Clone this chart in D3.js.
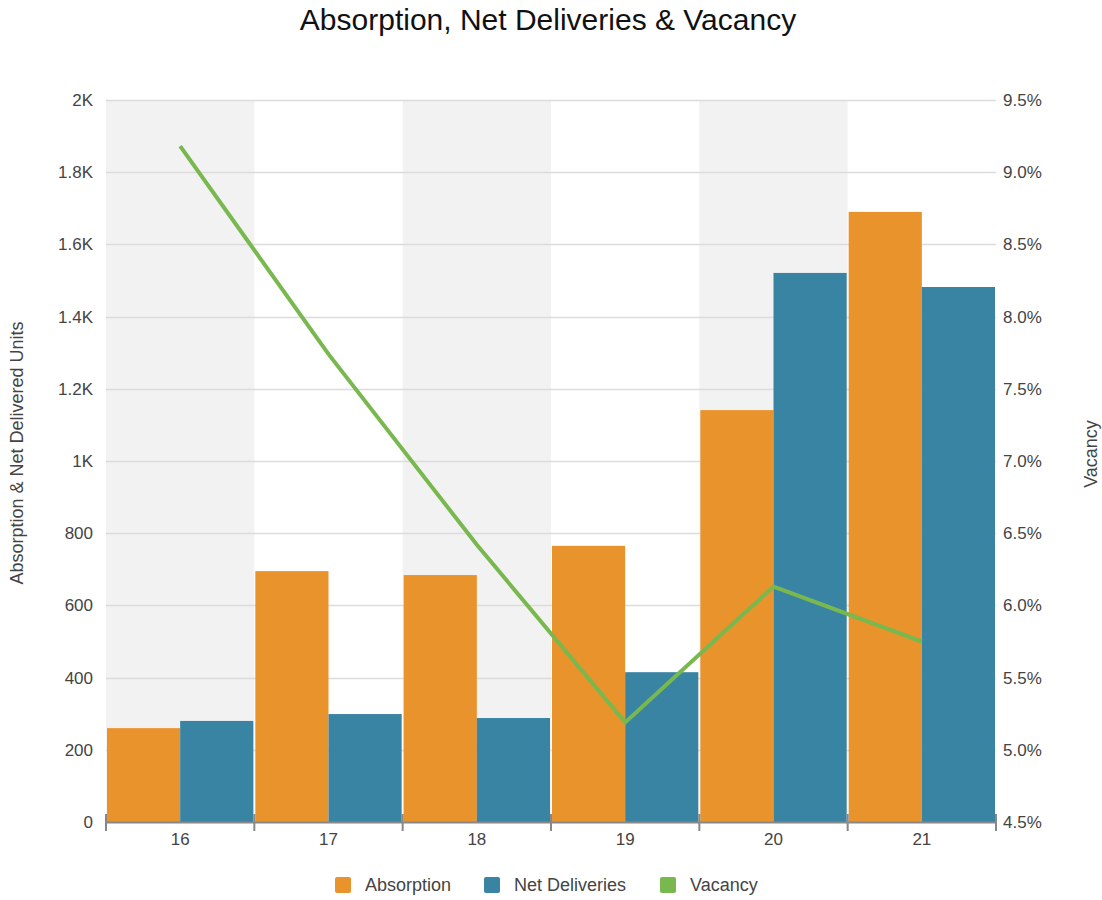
<!DOCTYPE html>
<html>
<head>
<meta charset="utf-8">
<script src="https://cdn.jsdelivr.net/npm/d3@7"></script>
<style>
  body { margin: 0; background: #fff; font-family: "Liberation Sans", Arial, sans-serif; }
  .tick text { fill: #444; font-size: 17px; }
</style>
</head>
<body>
<div id="chart"></div>
<script>
var years = ["16", "17", "18", "19", "20", "21"];
var absorption = [260, 695, 684, 765, 1141, 1690];
var netDeliveries = [280, 299, 288, 415, 1521, 1482];
var vacancy = [9.18, 7.74, 6.42, 5.19, 6.13, 5.75];
var leftTicks = [0, 200, 400, 600, 800, 1000, 1200, 1400, 1600, 1800, 2000];
var rightTicks = [4.5, 5.0, 5.5, 6.0, 6.5, 7.0, 7.5, 8.0, 8.5, 9.0, 9.5];

var width = 1102, height = 900;
var margin = {top: 100, right: 106, bottom: 78, left: 106};
var w = width - margin.left - margin.right,
    h = height - margin.top - margin.bottom;

var colors = {abs: "#e9932d", net: "#3983a3", vac: "#78b84f"};

var svg = d3.select("#chart").append("svg")
    .attr("width", width)
    .attr("height", height);

svg.append("text")
    .attr("x", width / 2 - 3)
    .attr("y", 30)
    .attr("text-anchor", "middle")
    .style("font-size", "30px")
    .style("fill", "#111")
    .text("Absorption, Net Deliveries & Vacancy");

var g = svg.append("g")
    .attr("transform", "translate(" + margin.left + "," + margin.top + ")");

var x = d3.scaleBand().domain(years).range([0, w]);
var sub = d3.scaleBand().domain(["abs", "net"]).range([0, x.bandwidth()]);
var y = d3.scaleLinear().domain([0, 2000]).range([h, 0]);
var yr = d3.scaleLinear().domain([4.5, 9.5]).range([h, 0]);

// alternating bands
g.selectAll("rect.band")
  .data(years.filter(function(d, i) { return i % 2 === 0; }))
  .enter().append("rect")
    .attr("class", "band")
    .attr("x", function(d) { return x(d); })
    .attr("y", 0)
    .attr("width", x.bandwidth())
    .attr("height", h)
    .attr("fill", "#f2f2f2");

// gridlines
g.selectAll("line.grid")
  .data(leftTicks.slice(1))
  .enter().append("line")
    .attr("class", "grid")
    .attr("x1", 0)
    .attr("x2", w)
    .attr("y1", function(d) { return Math.round(y(d)) + 0.5; })
    .attr("y2", function(d) { return Math.round(y(d)) + 0.5; })
    .attr("stroke", "#dcdcdc")
    .attr("stroke-width", 1.5);

// bars
var rows = years.map(function(d, i) {
  return {year: d, abs: absorption[i], net: netDeliveries[i]};
});
var groups = g.selectAll("g.grp").data(rows).enter().append("g")
    .attr("class", "grp")
    .attr("transform", function(d) { return "translate(" + x(d.year) + ",0)"; });

groups.append("rect")
    .attr("x", 1)
    .attr("width", sub.bandwidth() - 1)
    .attr("y", function(d) { return y(d.abs); })
    .attr("height", function(d) { return h - y(d.abs); })
    .attr("fill", colors.abs);

groups.append("rect")
    .attr("x", sub("net"))
    .attr("width", sub.bandwidth() - 1)
    .attr("y", function(d) { return y(d.net); })
    .attr("height", function(d) { return h - y(d.net); })
    .attr("fill", colors.net);

// vacancy line
var line = d3.line()
    .x(function(d, i) { return x(years[i]) + x.bandwidth() / 2; })
    .y(function(d) { return yr(d); });

g.append("path")
    .datum(vacancy)
    .attr("d", line)
    .attr("fill", "none")
    .attr("stroke", colors.vac)
    .attr("stroke-width", 4)
    .attr("stroke-linejoin", "miter");

// axes
var fmtK = function(d) { return d >= 1000 ? (d / 1000) + "K" : d; };
var yAxis = g.append("g")
    .call(d3.axisLeft(y).tickValues(leftTicks).tickFormat(fmtK).tickSize(0).tickPadding(13));
yAxis.select(".domain").remove();

var yrAxis = g.append("g")
    .attr("transform", "translate(" + w + ",0)")
    .call(d3.axisRight(yr).tickValues(rightTicks).tickFormat(function(d) { return d.toFixed(1) + "%"; }).tickSize(0).tickPadding(7));
yrAxis.select(".domain").remove();

var xAxis = g.append("g")
    .attr("transform", "translate(0," + h + ")")
    .call(d3.axisBottom(x).tickSize(0).tickPadding(11));
xAxis.select(".domain")
    .attr("stroke", "#888")
    .attr("stroke-width", 2);

var bounds = years.map(function(d) { return x(d); }).concat([w]);
xAxis.selectAll("line.sep")
  .data(bounds)
  .enter().append("line")
    .attr("class", "sep")
    .attr("x1", function(d) { return d; })
    .attr("x2", function(d) { return d; })
    .attr("y1", -8)
    .attr("y2", 9)
    .attr("stroke", "#888")
    .attr("stroke-width", 2);

// axis titles
svg.append("text")
    .attr("transform", "translate(23," + (margin.top + h / 2 - 8) + ") rotate(-90)")
    .attr("text-anchor", "middle")
    .style("font-size", "18px")
    .style("fill", "#444")
    .text("Absorption & Net Delivered Units");

svg.append("text")
    .attr("transform", "translate(1097," + (margin.top + h / 2 - 7) + ") rotate(-90)")
    .attr("text-anchor", "middle")
    .style("font-size", "18px")
    .style("fill", "#444")
    .text("Vacancy");

// legend
var legendItems = [
  {label: "Absorption", color: colors.abs, x: 335},
  {label: "Net Deliveries", color: colors.net, x: 484},
  {label: "Vacancy", color: colors.vac, x: 660}
];
var legend = svg.selectAll("g.legend").data(legendItems).enter().append("g")
    .attr("class", "legend")
    .attr("transform", function(d) { return "translate(" + d.x + ",877)"; });
legend.append("rect")
    .attr("width", 16)
    .attr("height", 16)
    .attr("rx", 2)
    .attr("fill", function(d) { return d.color; });
legend.append("text")
    .attr("x", 30)
    .attr("y", 14)
    .style("font-size", "18px")
    .style("fill", "#444")
    .text(function(d) { return d.label; });
</script>
</body>
</html>
